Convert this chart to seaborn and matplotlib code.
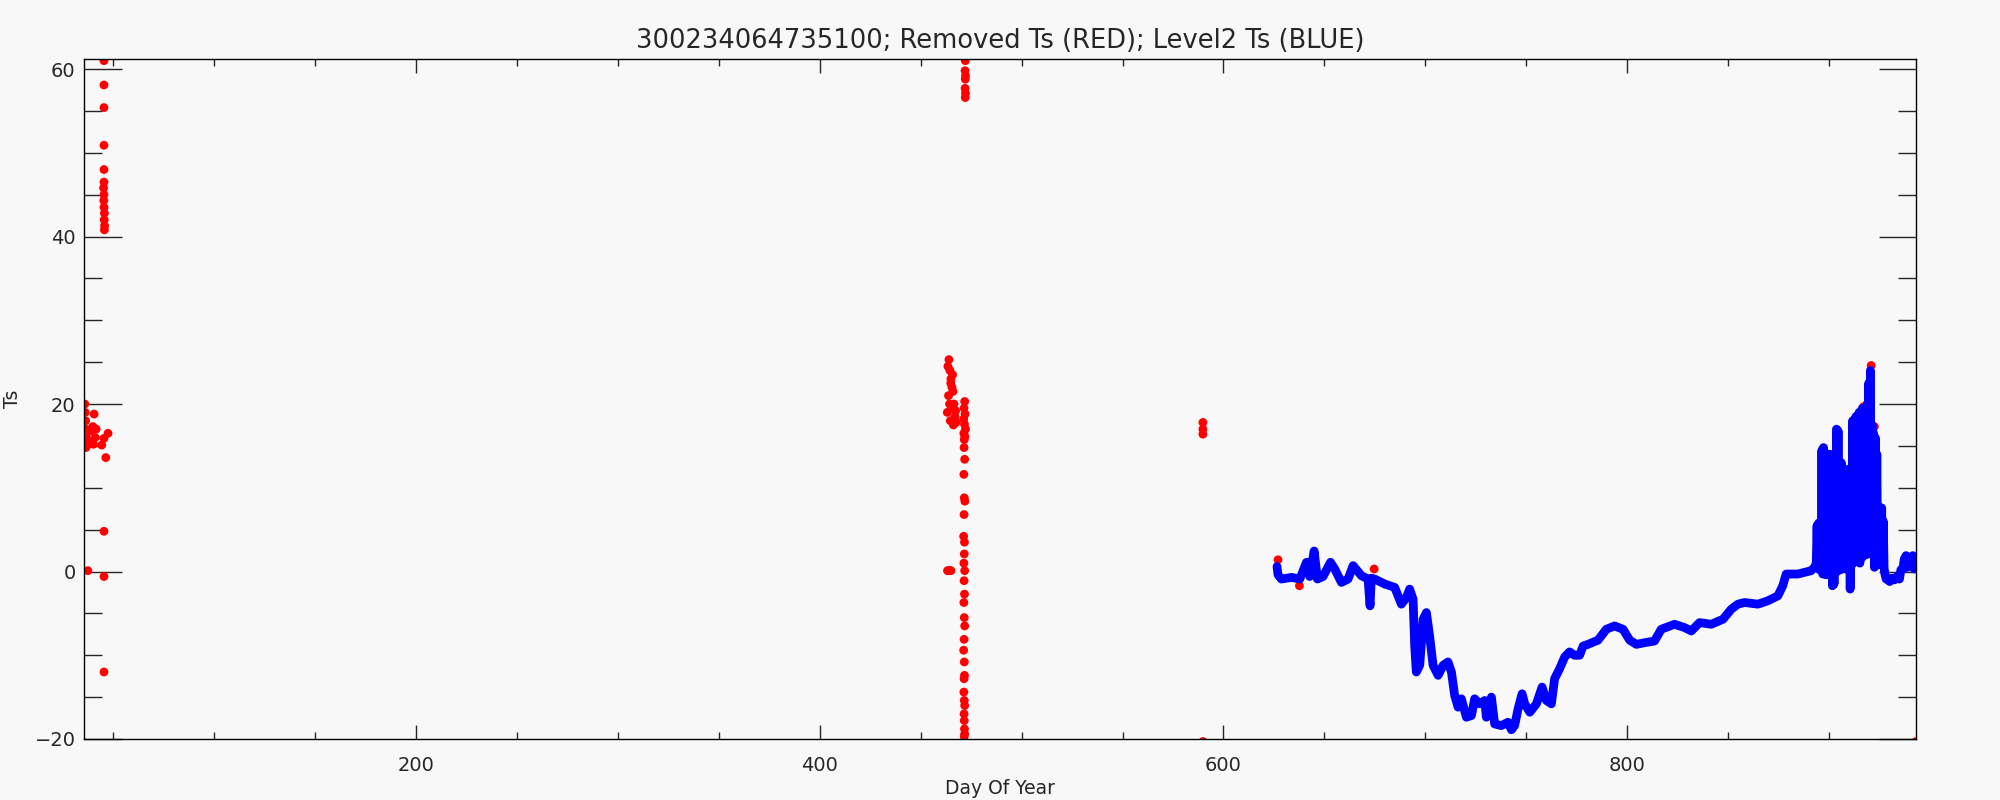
import numpy as np
import pandas as pd
import seaborn as sns
import matplotlib.pyplot as plt
from matplotlib.ticker import MultipleLocator

# Level2 Ts (blue)
blue_day = [626.5, 627.0, 628.7, 633.7, 637.8, 641.1, 642.7, 644.9, 646.5, 649.3,
            653.0, 655.1, 658.4, 661.7, 664.2, 668.3, 671.6, 672.6, 673.2, 674.9,
            679.9, 684.8, 688.1, 690.6, 692.2, 693.9, 694.7, 695.5, 697.2, 698.9,
            700.5, 702.1, 703.8, 706.3, 708.8, 711.2, 712.9, 714.5, 716.2, 717.8,
            720.3, 722.8, 724.4, 726.9, 729.4, 730.2, 732.7, 734.3, 737.6, 740.9,
            742.6, 744.2, 745.9, 747.9, 749.2, 751.7, 755.0, 757.8, 759.9, 762.4,
            764.0, 766.5, 769.0, 771.4, 773.9, 776.4, 778.1, 780.5, 785.5, 789.6,
            793.7, 797.9, 801.2, 804.5, 808.6, 813.5, 816.8, 823.4, 828.4, 831.7,
            835.8, 841.6, 847.4, 851.5, 854.8, 858.1, 864.7, 869.6, 874.6, 877.0,
            878.7, 884.5, 891.1, 892.7,
            893.6, 894.0, 894.4, 894.8, 895.2, 895.6, 896.0, 896.4, 896.8, 897.2,
            897.6, 898.0, 898.4, 898.8, 899.2, 899.6, 900.0, 900.4, 900.8, 901.2,
            901.6, 902.0, 902.4, 902.8, 903.2, 903.6, 904.0, 904.4, 904.8, 905.2,
            905.6, 906.0, 906.4, 906.8, 907.2, 907.6, 908.0, 908.4, 908.8, 909.2,
            909.6, 910.0, 910.4, 910.8, 911.2, 911.6, 912.0, 912.4, 912.8, 913.2,
            913.6, 914.0, 914.4, 914.8, 915.2, 915.6, 916.0, 916.4, 916.8, 917.2,
            917.6, 918.0, 918.4, 918.8, 919.2, 919.6, 920.0, 920.4, 920.8, 921.2,
            921.6, 922.0, 922.4, 922.8, 923.2, 923.6, 924.0, 924.4, 924.8, 925.2,
            925.6, 926.0, 926.4, 926.8, 927.2,
            927.6, 928.2, 929.0, 930.0, 931.0, 932.3, 933.5, 934.8, 935.5, 936.5,
            937.2, 938.1, 938.8, 939.8, 940.5, 941.4, 942.2, 943.0]
blue_ts = [0.6, -0.4, -0.9, -0.7, -0.9, 1.1, -0.6, 2.45, -0.9, -0.6,
           1.1, 0.3, -1.3, -0.9, 0.7, -0.5, -0.9, -4.1, -0.8, -0.9,
           -1.5, -1.9, -3.9, -3.1, -2.1, -3.3, -8.9, -12.0, -11.2, -5.7,
           -4.9, -7.7, -11.2, -12.4, -11.2, -10.8, -12.0, -14.8, -16.2, -15.2,
           -17.4, -17.2, -15.2, -15.8, -15.4, -17.4, -15.0, -18.2, -18.4, -18.0,
           -18.9, -18.4, -16.4, -14.6, -15.8, -16.8, -15.8, -13.8, -15.4, -15.8,
           -12.8, -11.6, -10.2, -9.6, -10.0, -10.0, -8.9, -8.7, -8.2, -6.9,
           -6.5, -6.9, -8.2, -8.7, -8.5, -8.3, -6.9, -6.3, -6.7, -7.1,
           -6.1, -6.3, -5.7, -4.5, -3.9, -3.7, -3.9, -3.5, -2.9, -1.7,
           -0.3, -0.3, 0.1, 0.5,
           1.0, 5.5, 0.5, 5.8, 0.2, 4.5, 0.8, 14.5, -0.3, 14.8,
           0.5, 14.2, -0.4, 13.0, 0.8, 12.5, -0.2, 14.0, 0.4, 12.0,
           -1.7, 9.0, -1.5, 11.0, 0.5, 17.0, 0.0, 16.8, 0.8, 12.5,
           0.2, 13.0, 0.9, 11.0, 1.2, 8.0, 0.3, 12.0, 1.5, 12.2,
           0.5, 11.5, -2.1, 10.0, 0.8, 18.0, 1.0, 17.5, 2.0, 18.5,
           1.5, 17.0, 2.2, 19.0, 1.0, 17.5, 2.5, 19.5, 1.8, 18.5,
           3.0, 16.0, 2.0, 20.0, 3.5, 22.5, 4.0, 24.0, 5.0, 17.5,
           2.0, 16.5, 0.5, 16.0, 1.0, 14.0, 0.8, 7.8, 1.2, 7.5,
           0.9, 7.6, 1.0, 6.0, 0.4,
           -0.3, -0.9, -1.0, -1.2, -0.8, -1.0, -0.6, -0.9, 0.2, 0.3,
           1.5, 1.9, 0.5, 1.6, 0.8, 1.9, 0.3, 1.2]

# Removed Ts (red)
red_day = [36.0, 36.2, 36.4, 36.6, 36.8, 37.0, 37.2, 36.5, 37.5,
           38.5, 39.0, 39.5, 40.0, 40.3, 40.6, 41.2, 41.6,
           44.4, 45.5, 47.5, 46.4,
           45.5, 45.5, 45.5, 45.5, 45.5, 45.5, 45.3, 45.5, 45.4, 45.5,
           45.7, 45.6, 45.8, 45.7,
           45.5, 45.5, 45.5, 47.4,
           463.5, 464.0, 464.5, 465.0, 465.5, 463.8, 464.3, 465.2, 466.0, 466.5,
           467.0, 464.7, 466.2, 467.5, 463.2, 465.8, 464.9, 467.3,
           471.8, 471.5, 472.0, 471.3, 471.7, 472.2, 471.4, 471.9, 471.6, 471.5,
           471.8, 471.4, 471.6, 471.9, 471.5, 471.3, 471.7, 471.6, 471.4, 471.8,
           471.5, 471.7, 471.4, 471.6, 471.8, 471.5, 471.3, 471.6, 471.7, 471.5,
           471.4, 471.6, 471.8, 471.5, 471.6, 471.7, 471.8, 471.6,
           472.1, 472.0, 472.2, 472.1, 472.0, 472.2, 472.1,
           463.3, 463.9, 464.5, 465.0,
           589.8, 589.8, 589.8, 589.8,
           627.0, 637.6, 674.6, 914.5, 917.2, 920.8, 922.4, 918.7, 943.0]
red_ts = [20.0, 19.0, 18.0, 17.0, 16.0, 15.0, 15.5, 14.8, 0.1,
          15.3, 16.8, 15.5, 17.3, 15.2, 18.8, 16.0, 17.0,
          15.1, 15.9, 16.5, 13.6,
          61.0, 58.1, 55.4, 50.9, 48.0, 46.5, 45.8, 45.0, 44.3, 43.5,
          42.8, 42.0, 41.3, 40.8,
          4.8, -0.6, -12.0, -20.6,
          24.5, 25.3, 24.0, 23.0, 22.0, 21.0, 20.0, 19.5, 21.5, 20.0,
          18.5, 18.0, 17.5, 17.8, 19.0, 23.5, 22.5, 19.2,
          20.3, 19.5, 18.8, 18.2, 17.6, 17.0, 16.5, 16.1, 15.75, 14.8,
          13.4, 11.6, 8.8, 8.4, 6.8, 4.2, 3.5, 2.1, 1.0, 0.1,
          -1.1, -2.7, -3.7, -5.5, -6.5, -8.1, -9.4, -10.8, -12.4, -12.8,
          -14.4, -15.4, -16.0, -17.0, -17.8, -18.8, -19.4, -19.7,
          61.0, 59.8, 59.2, 58.8, 57.7, 57.1, 56.6,
          0.1, 0.1, 0.1, 0.1,
          17.8, 17.0, 16.4, -20.3,
          1.4, -1.7, 0.3, 18.0, 19.7, 24.6, 17.3, 15.4, -20.3]

title = "300234064735100; Removed Ts (RED); Level2 Ts (BLUE)"

bg = "#f8f8f8"
sns.set_style("ticks", {"axes.facecolor": bg, "figure.facecolor": bg})
plt.rcParams["font.family"] = ["DejaVu Sans"]

fig = plt.figure(figsize=(20, 8), dpi=100)
ax = fig.add_axes([0.042, 0.07625, 0.916, 0.85])

red = pd.DataFrame({"day": red_day, "ts": red_ts})
blue = pd.DataFrame({"day": blue_day, "ts": blue_ts})

sns.scatterplot(data=red, x="day", y="ts", color="#ff0000", s=40,
                edgecolor="none", linewidth=0, ax=ax, zorder=2)
sns.lineplot(data=blue, x="day", y="ts", color="#0000ff", lw=6.3,
             sort=False, estimator=None, ax=ax, zorder=3,
             solid_capstyle="round", solid_joinstyle="round")

ax.set_xlim(35.6, 943)
ax.set_ylim(-20, 61.2)
ax.xaxis.set_major_locator(MultipleLocator(200))
ax.xaxis.set_minor_locator(MultipleLocator(50))
ax.yaxis.set_major_locator(MultipleLocator(20))
ax.yaxis.set_minor_locator(MultipleLocator(5))

for s in ax.spines.values():
    s.set_visible(True)
    s.set_linewidth(1.0)
    s.set_color("black")

ax.tick_params(axis="x", which="major", direction="in", top=True, bottom=True,
               length=10, width=1.0, pad=12, labelsize=14)
ax.tick_params(axis="x", which="minor", direction="in", top=True, bottom=True,
               length=5, width=1.0)
ax.tick_params(axis="y", which="major", direction="in", left=True, right=True,
               length=27, width=1.0, pad=6, labelsize=14)
ax.tick_params(axis="y", which="minor", direction="in", left=True, right=True,
               length=13, width=1.0)

ax.set_xlabel("Day Of Year", fontsize=13.5)
ax.set_ylabel("Ts", fontsize=13.5)
ax.xaxis.set_label_coords(0.5, -0.0735)
ax.xaxis.label.set_va("center")
ax.yaxis.set_label_coords(-0.0388, 0.5)
ax.yaxis.label.set_va("center")

fig.text(0.5, 1 - 41 / 800, title, ha="center", va="center", fontsize=18.5)

fig.savefig("out.png", dpi=100, facecolor=bg)
